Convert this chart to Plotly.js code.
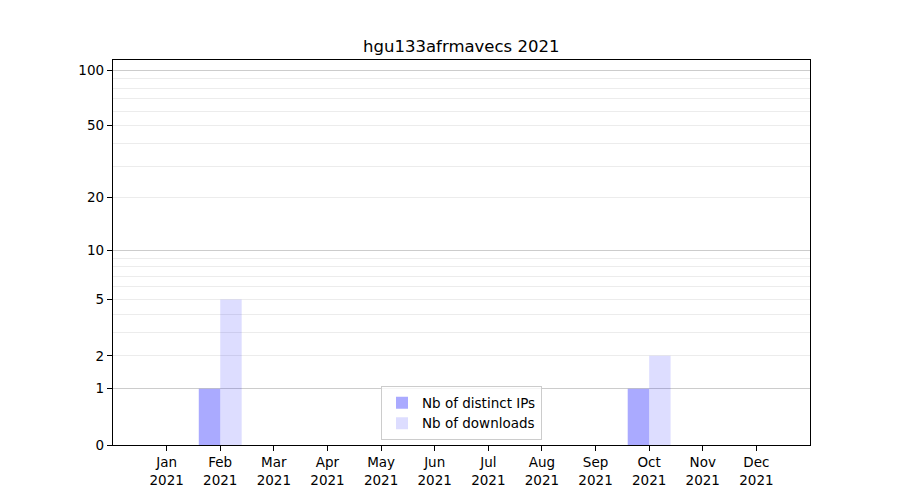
<!DOCTYPE html>
<html><head><meta charset="utf-8">
<script src="https://cdn.plot.ly/plotly-3.0.1.min.js"></script>
<style>body{margin:0;background:#fff}#chart{width:900px;height:500px}</style>
</head><body><div id="chart"></div>
<script>
const months = ["Jan","Feb","Mar","Apr","May","Jun","Jul","Aug","Sep","Oct","Nov","Dec"];
const year = "2021";
const distinctIPs = [0,1,0,0,0,0,0,0,0,1,0,0];
const downloads = [0,5,0,0,0,0,0,0,0,2,0,0];
const yTickLabels = [0,1,2,5,10,20,50,100];
const yMajorGrid = [1,10,100];
const yMinorGrid = [2,3,4,5,6,7,8,9,20,30,40,50,60,70,80,90];
const yMax = 113.5;

const xIdx = months.map((m,i)=>i);
const font = {family:"DejaVu Sans", size:13.5, color:"#000"};
const shift = v => v + 1; // symlog-like axis: log10(1+y)

const traces = [
  {type:'bar', name:'Nb of distinct IPs', x:xIdx, y:distinctIPs, base:1,
   marker:{color:'rgba(0,0,255,0.333)', line:{width:0}}, hoverinfo:'skip'},
  {type:'bar', name:'Nb of downloads', x:xIdx, y:downloads, base:1,
   marker:{color:'rgba(0,0,255,0.133)', line:{width:0}}, hoverinfo:'skip'},
  {type:'scatter', x:[0], y:[1], yaxis:'y2', mode:'none', showlegend:false, hoverinfo:'skip'}
];

const yr = [0, Math.log10(shift(yMax))];
const layout = {
  width:900, height:500,
  margin:{l:113, r:90, t:60, b:55},
  paper_bgcolor:'#fff', plot_bgcolor:'#fff',
  font: font,
  title:{text:'hgu133afrmavecs ' + year, font:{family:"DejaVu Sans", size:16.5, color:'#000'},
         x:0.5125, xanchor:'center', y:0.908, yanchor:'middle'},
  barmode:'group', bargap:0.2, bargroupgap:0,
  showlegend:true,
  legend:{x:0.5, xanchor:'center', y:0.012, yanchor:'bottom',
          bgcolor:'rgba(255,255,255,0.8)', bordercolor:'#cccccc', borderwidth:1,
          font:{family:"DejaVu Sans", size:13.5, color:'#000'}, tracegroupgap:2},
  xaxis:{range:[-1,12], tickmode:'array', tickvals:xIdx,
         ticktext:months.map(m=>m+'<br>'+year),
         ticks:'outside', ticklen:5, tickcolor:'#000', showgrid:false, zeroline:false,
         showline:true, linecolor:'#000', linewidth:1.2, mirror:true,
         tickfont:font},
  yaxis:{type:'log', range:yr, tickmode:'array',
         tickvals:yTickLabels.map(shift), ticktext:yTickLabels.map(String),
         ticks:'outside', ticklen:5, tickcolor:'#000', showgrid:false, zeroline:false,
         showline:true, linecolor:'#000', linewidth:1.2, mirror:true,
         tickfont:font,
         minor:{tickmode:'array', tickvals:yMinorGrid.map(shift), ticks:'', showgrid:true,
                gridcolor:'#ececec', gridwidth:1}},
  yaxis2:{type:'log', range:yr, overlaying:'y', tickmode:'array',
          tickvals:yMajorGrid.map(shift), showticklabels:false, ticks:'',
          showgrid:true, gridcolor:'#cccccc', gridwidth:1, zeroline:false, showline:false}
};
Plotly.newPlot('chart', traces, layout, {staticPlot:true});
</script></body></html>
